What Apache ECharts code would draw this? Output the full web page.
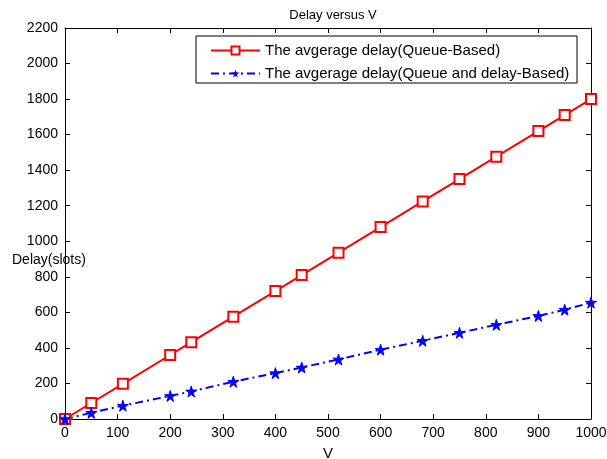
<!DOCTYPE html>
<html>
<head>
<meta charset="utf-8">
<script src="https://cdn.jsdelivr.net/npm/echarts@6/dist/echarts.min.js"></script>
<style>html,body{margin:0;padding:0;background:#fff;}#c{width:607px;height:459px;}</style>
</head>
<body>
<div id="c"></div>
<script>
const vValues = [0, 50, 110, 200, 240, 320, 400, 450, 520, 600, 680, 750, 820, 900, 950, 1000];
const queueDelay = [0, 90, 198, 360, 432, 576, 720, 810, 936, 1080, 1224, 1350, 1476, 1620, 1710, 1800];
const queueAndDelay = [0, 35, 75, 130, 155, 210, 258, 290, 335, 390, 440, 485, 530, 580, 615, 655];
const seriesNames = ['The avgerage delay(Queue-Based)', 'The avgerage delay(Queue and delay-Based)'];
const titleText = 'Delay versus V';
const xName = 'V';
const yName = 'Delay(slots)';

const font = 'Liberation Sans, Arial, sans-serif';
const star = 'path://M50,0 L61,35 L98,35 L68,57 L79,91 L50,70 L21,91 L32,57 L2,35 L39,35 Z';

const chart = echarts.init(document.getElementById('c'));
const axisCommon = {
  type: 'value', min: 0,
  axisLine: { show: true, onZero: false, lineStyle: { color: '#000', width: 1 } },
  axisTick: { show: true, inside: true, length: 5, lineStyle: { color: '#000' } },
  splitLine: { show: false }
};
const labelStyle = { fontFamily: font, fontSize: 14, color: '#000', margin: 7, formatter: v => String(v) };
chart.setOption({
  animation: false,
  backgroundColor: '#fff',
  title: { text: titleText, left: 328, textAlign: 'center', top: 4,
    textStyle: { fontFamily: font, fontSize: 13, fontWeight: 'normal', color: '#000' } },
  grid: { left: 65, right: 16, top: 28, bottom: 40, containLabel: false, outerBoundsMode: 'none' },
  xAxis: [
    Object.assign({}, axisCommon, { position: 'bottom', max: 1000, interval: 100,
      name: xName, nameLocation: 'middle', nameGap: 27,
      nameTextStyle: { fontFamily: font, fontSize: 15, color: '#000' },
      axisLabel: labelStyle }),
    Object.assign({}, axisCommon, { position: 'top', max: 1000, interval: 100, axisLabel: { show: false } })
  ],
  yAxis: [
    Object.assign({}, axisCommon, { position: 'left', max: 2200, interval: 200,
      axisLabel: labelStyle }),
    Object.assign({}, axisCommon, { position: 'right', max: 2200, interval: 200, axisLabel: { show: false } })
  ],
  legend: {
    left: 205, top: 38, orient: 'vertical', itemGap: 8,
    itemWidth: 49, itemHeight: 10, itemTextGap: 6,
    textStyle: { fontFamily: font, fontSize: 15, color: '#000' },
    data: seriesNames
  },
  graphic: [
    { type: 'rect', shape: { x: 196, y: 36, width: 381, height: 47 },
      style: { fill: 'rgba(255,255,255,0)', stroke: '#000', lineWidth: 1 }, z: 100 },
    { type: 'text', left: 12, top: 253,
      style: { text: yName, fontFamily: font, fontSize: 14, fill: '#000' }, z: 100 }
  ],
  series: [
    { name: seriesNames[0], type: 'line',
      data: vValues.map((v, i) => [v, queueDelay[i]]),
      symbol: 'emptyRect', symbolSize: 10, showAllSymbol: true,
      lineStyle: { color: '#ff0000', width: 2 },
      itemStyle: { color: '#ff0000', borderColor: '#ff0000', borderWidth: 2 } },
    { name: seriesNames[1], type: 'line',
      data: vValues.map((v, i) => [v, queueAndDelay[i]]),
      symbol: star, symbolSize: 11, showAllSymbol: true,
      lineStyle: { color: '#0000ff', width: 2, type: [8, 4, 2, 4] },
      itemStyle: { color: '#0000ff', borderColor: '#0000ff' } }
  ]
});
</script>
</body>
</html>
